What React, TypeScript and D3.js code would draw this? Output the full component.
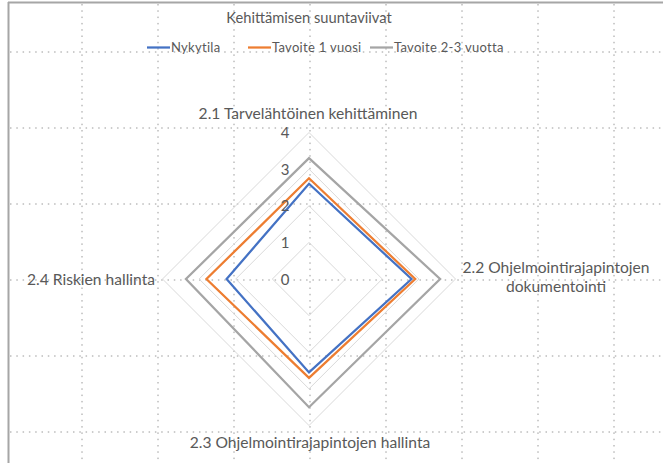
import React from "react";
import * as d3 from "d3";

const title = "Kehittämisen suuntaviivat";
const axesLabels = [
  ["2.1 Tarvelähtöinen kehittäminen"],
  ["2.2 Ohjelmointirajapintojen", "dokumentointi"],
  ["2.3 Ohjelmointirajapintojen hallinta"],
  ["2.4 Riskien hallinta"],
];
const seriesNames = ["Nykytila", "Tavoite 1 vuosi", "Tavoite 2-3 vuotta"];
const seriesColors = ["#4472C4", "#ED7D31", "#A5A5A5"];
const nykytila = [2.6, 2.8, 2.55, 2.25];
const tavoite1 = [2.75, 2.9, 2.7, 2.8];
const tavoite23 = [3.3, 3.58, 3.5, 3.36];
const ticks = [0, 1, 2, 3, 4];

const W = 663;
const H = 463;
const cx = 309;
const cy = 279;
const R = 146.5;
const FONT = "Lato, 'Open Sans', sans-serif";
const TXT = "#595959";

export default function App() {
  const r = d3.scaleLinear().domain([0, 4]).range([0, R]);
  const ang = (i: number) => (i * 2 * Math.PI) / axesLabels.length;
  const pt = (i: number, v: number): [number, number] => [
    cx + r(v) * Math.sin(ang(i)),
    cy - r(v) * Math.cos(ang(i)),
  ];
  const closed = d3.line().curve(d3.curveLinearClosed);
  const data = [nykytila, tavoite1, tavoite23];

  const gridH = d3.range(-3, 3).map((k) => cy + 1 + k * 76);
  const gridV = d3.range(-3, 5).map((k) => 310 + k * 76);

  return (
    <svg
      width={W}
      height={H}
      style={{ position: "absolute", left: 0, top: 0, background: "#fff" }}
      fontFamily={FONT}
    >
      {gridH.map((y) => (
        <line
          key={"h" + y}
          x1={10}
          x2={W}
          y1={y}
          y2={y}
          stroke="#9a9a9a"
          strokeWidth={1}
          strokeDasharray="1.5 4.8"
        />
      ))}
      {gridV.map((x) => (
        <line
          key={"v" + x}
          x1={x}
          x2={x}
          y1={4}
          y2={H}
          stroke="#9a9a9a"
          strokeWidth={1}
          strokeDasharray="1.5 4.8"
        />
      ))}
      <line x1={8} x2={W} y1={2.5} y2={2.5} stroke="#a6a6a6" strokeWidth={2} />
      <line x1={8.5} x2={8.5} y1={2} y2={H} stroke="#a6a6a6" strokeWidth={2} />

      <text x={309} y={23} textAnchor="middle" fontSize={14.7} fill={TXT}>
        {title}
      </text>

      {(() => {
        const xs = [147, 248, 370];
        return seriesNames.map((n, i) => (
          <g key={n}>
            <line
              x1={xs[i]}
              x2={xs[i] + 23}
              y1={47.5}
              y2={47.5}
              stroke={seriesColors[i]}
              strokeWidth={2.25}
            />
            <text
              x={xs[i] + 24}
              y={52}
              fontSize={13}
              letterSpacing={0.3}
              fill={TXT}
            >
              {n}
            </text>
          </g>
        ));
      })()}

      {ticks.slice(1).map((t) => (
        <path
          key={"ring" + t}
          d={closed(axesLabels.map((_, i) => pt(i, t))) || ""}
          fill="none"
          stroke="#d9d9d9"
          strokeWidth={1}
        />
      ))}

      {data.map((vals, si) => (
        <path
          key={"s" + si}
          d={closed(vals.map((v, i) => pt(i, v))) || ""}
          fill="none"
          stroke={seriesColors[si]}
          strokeWidth={2.25}
          strokeLinejoin="miter"
        />
      ))}

      {ticks.map((t) => (
        <text
          key={"t" + t}
          x={cx - 24}
          y={cy - r(t) + 5.5}
          textAnchor="middle"
          fontSize={15}
          fill={TXT}
        >
          {t}
        </text>
      ))}

      <text x={308} y={119} textAnchor="middle" fontSize={15.6} fill={TXT}>
        {axesLabels[0][0]}
      </text>
      <text x={556} y={273} textAnchor="middle" fontSize={15.6} fill={TXT}>
        <tspan x={556}>{axesLabels[1][0]}</tspan>
        <tspan x={556} dy={19}>
          {axesLabels[1][1]}
        </tspan>
      </text>
      <text x={310} y={448} textAnchor="middle" fontSize={15.6} fill={TXT}>
        {axesLabels[2][0]}
      </text>
      <text x={155} y={285} textAnchor="end" fontSize={15.6} fill={TXT}>
        {axesLabels[3][0]}
      </text>
    </svg>
  );
}
